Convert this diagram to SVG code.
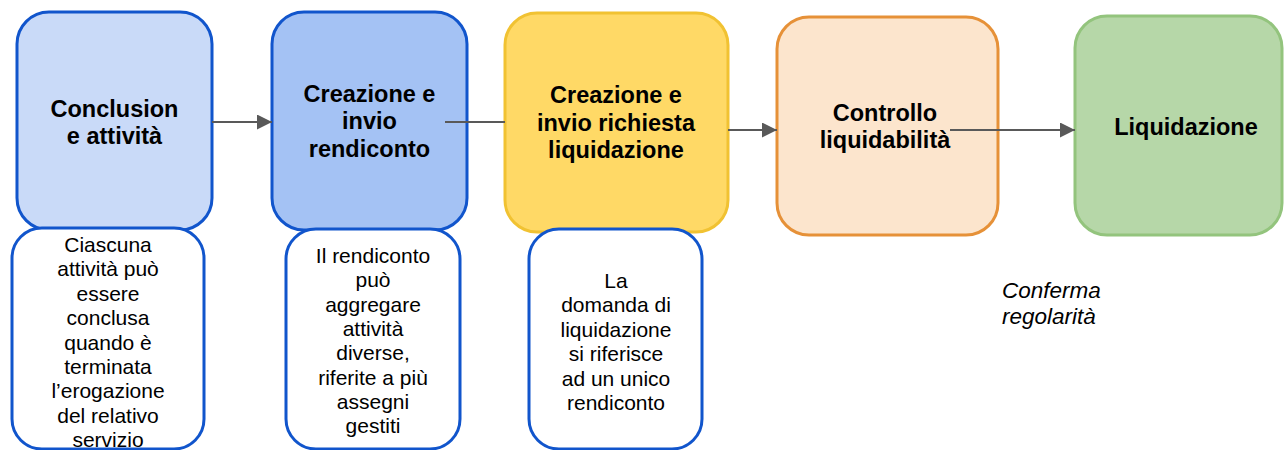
<svg xmlns="http://www.w3.org/2000/svg" width="1288" height="450" viewBox="0 0 1288 450">
<style>
.box{stroke-width:3}
.t{font-family:"Liberation Sans",Arial,sans-serif;font-weight:bold;font-size:23.5px;fill:#000;text-anchor:middle}
.n{font-family:"Liberation Sans",Arial,sans-serif;font-size:21px;fill:#000;text-anchor:middle}
.note{fill:#fff;stroke:#1155CC;stroke-width:3}
.c{stroke:#595959;stroke-width:2;fill:none}
.i{font-family:"Liberation Sans",Arial,sans-serif;font-style:italic;font-size:22.5px;fill:#000}
</style>
<defs>
<marker id="ah" markerWidth="15" markerHeight="15" refX="15" refY="7.5" orient="auto" markerUnits="userSpaceOnUse" viewBox="0 0 15 15">
<path d="M0,0 L15,7.5 L0,15 Z" fill="#595959"/>
</marker>
</defs>
<rect width="1288" height="450" fill="#fff"/>
<g id="n1">
<rect class="box" x="17" y="12" width="195" height="218" rx="32" fill="#C9DAF8" stroke="#1155CC"/>
<text class="t" x="114.5" y="117">Conclusion</text>
<text class="t" x="114.5" y="144">e attività</text>
</g>
<g id="n2">
<rect class="box" x="272" y="12" width="195" height="218" rx="32" fill="#A4C2F4" stroke="#1155CC"/>
<text class="t" x="369.5" y="102">Creazione e</text>
<text class="t" x="369.5" y="129">invio</text>
<text class="t" x="369.5" y="157">rendiconto</text>
</g>
<g id="n3">
<rect class="box" x="505" y="13" width="223" height="219" rx="32" fill="#FFD966" stroke="#F1C232"/>
<text class="t" x="616" y="103">Creazione e</text>
<text class="t" x="616" y="131">invio richiesta</text>
<text class="t" x="616" y="158">liquidazione</text>
</g>
<g id="n4">
<rect class="box" x="777" y="17" width="221" height="218" rx="32" fill="#FCE5CD" stroke="#E69138"/>
<text class="t" x="885" y="121">Controllo</text>
<text class="t" x="885" y="148">liquidabilità</text>
</g>
<g id="n5">
<rect class="box" x="1075" y="16" width="207" height="219" rx="32" fill="#B6D7A8" stroke="#93C47D"/>
<text class="t" x="1186" y="135">Liquidazione</text>
</g>
<g id="noteA">
<rect class="note" x="12" y="228" width="192" height="221" rx="30"/>
<text class="n" x="108" y="252">Ciascuna</text>
<text class="n" x="108" y="276.4">attività può</text>
<text class="n" x="108" y="300.8">essere</text>
<text class="n" x="108" y="325.2">conclusa</text>
<text class="n" x="108" y="349.6">quando è</text>
<text class="n" x="108" y="374">terminata</text>
<text class="n" x="108" y="398.4">l’erogazione</text>
<text class="n" x="108" y="422.8">del relativo</text>
<text class="n" x="108" y="447.2">servizio</text>
</g>
<g id="noteB">
<rect class="note" x="286" y="229" width="174" height="220" rx="30"/>
<text class="n" x="373" y="263">Il rendiconto</text>
<text class="n" x="373" y="287.3">può</text>
<text class="n" x="373" y="311.6">aggregare</text>
<text class="n" x="373" y="335.9">attività</text>
<text class="n" x="373" y="360.2">diverse,</text>
<text class="n" x="373" y="384.5">riferite a più</text>
<text class="n" x="373" y="408.8">assegni</text>
<text class="n" x="373" y="433.1">gestiti</text>
</g>
<g id="noteC">
<rect class="note" x="529" y="229" width="173" height="220" rx="30"/>
<text class="n" x="616" y="288">La</text>
<text class="n" x="616" y="312.4">domanda di</text>
<text class="n" x="616" y="336.8">liquidazione</text>
<text class="n" x="616" y="361.2">si riferisce</text>
<text class="n" x="616" y="385.6">ad un unico</text>
<text class="n" x="616" y="410">rendiconto</text>
</g>
<g id="label">
<text class="i" x="1002" y="298">Conferma</text>
<text class="i" x="1002" y="324">regolarità</text>
</g>
<g id="connectors">
<line class="c" x1="212" y1="122" x2="272" y2="122" marker-end="url(#ah)"/>
<line class="c" x1="445" y1="122" x2="505" y2="122"/>
<line class="c" x1="728" y1="130" x2="777" y2="130" marker-end="url(#ah)"/>
<line class="c" x1="950" y1="130" x2="1075" y2="130" marker-end="url(#ah)"/>
</g>
</svg>
